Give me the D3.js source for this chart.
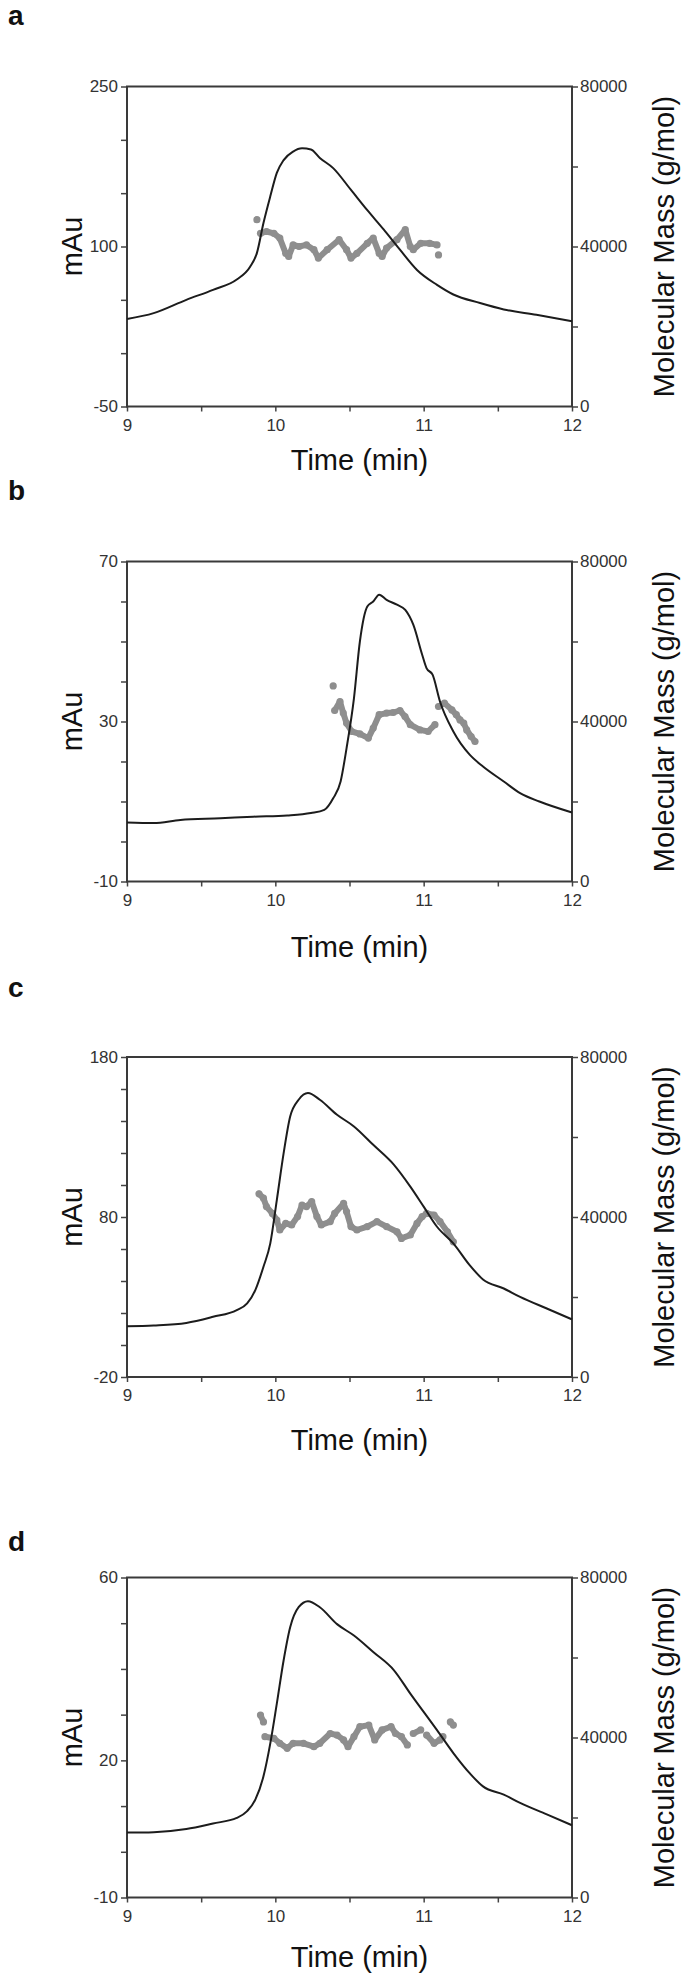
<!DOCTYPE html>
<html>
<head>
<meta charset="utf-8">
<script src="https://cdn.jsdelivr.net/npm/d3@7"></script>
<style>
  body { margin: 0; background: #fff; }
  svg { display: block; font-family: Arial, "Liberation Sans", sans-serif; }
</style>
</head>
<body>
<div id="chart"></div>
<script>
// shared time axis (min) and molecular mass axis (g/mol)
const timeDomain = [9, 12];
const timeTicks = [9, 9.5, 10, 10.5, 11, 11.5, 12];
const timeLabels = [9, 10, 11, 12];
const massDomain = [0, 80000];
const massTicks = [0, 20000, 40000, 60000, 80000];
const massLabels = [0, 40000, 80000];

const panelNames = ["a", "b", "c", "d"];
const mauDomains = [[-50, 250], [-10, 70], [-20, 180], [-10, 60]];
const mauTickSteps = [50, 10, 20, 10];
const mauLabels = [[-50, 100, 250], [-10, 30, 70], [-20, 80, 180], [-10, 20, 60]];

// panel a
const uvTimeA = [9, 9.18, 9.40, 9.58, 9.74, 9.83, 9.876, 9.92, 9.966, 10.01, 10.056, 10.12, 10.18, 10.24, 10.30, 10.39, 10.51, 10.62, 10.73, 10.84, 10.955, 11.09, 11.20, 11.38, 11.54, 11.76, 12];
const uvA = [32, 37.5, 50, 59.4, 69, 81, 94, 122, 147, 169, 181, 189, 192, 191, 183, 173.5, 153, 134, 116, 97, 78, 64, 55, 47, 41, 36, 30];
const mmTimeA = [9.876, 9.89, 9.90, 9.94, 9.99, 10.03, 10.07, 10.09, 10.12, 10.16, 10.21, 10.26, 10.29, 10.35, 10.43, 10.48, 10.51, 10.55, 10.62, 10.66, 10.70, 10.72, 10.75, 10.82, 10.876, 10.91, 10.93, 10.98, 11.04, 11.09, 11.095, 11.10];
const mmA = [46700, null, 43300, 43750, 43300, 42100, 38300, 37500, 40400, 40000, 40400, 39200, 37100, 39200, 41700, 39200, 37100, 38300, 40800, 42100, 38300, 37500, 39600, 41700, 44200, 40000, 39200, 40800, 40800, 40400, null, 37900];

// panel b
const uvTimeB = [9, 9.18, 9.36, 9.63, 9.85, 10.08, 10.24, 10.33, 10.39, 10.44, 10.48, 10.53, 10.57, 10.62, 10.66, 10.70, 10.75, 10.82, 10.876, 10.93, 10.99, 11.02, 11.06, 11.11, 11.20, 11.31, 11.40, 11.54, 11.65, 11.78, 12];
const uvB = [4.75, 4.6, 5.4, 5.8, 6.2, 6.5, 7.1, 7.9, 10.8, 15, 23.3, 35.8, 50, 58.75, 60, 61.7, 60.4, 59.2, 57.9, 54.2, 46.7, 43.3, 41.7, 35, 27.5, 21.7, 18.75, 15, 12.1, 10, 7.25];
const mmTimeB = [10.39, 10.395, 10.40, 10.436, 10.458, 10.48, 10.515, 10.57, 10.627, 10.66, 10.70, 10.75, 10.795, 10.84, 10.874, 10.91, 10.975, 11.03, 11.076, 11.09, 11.10, 11.14, 11.19, 11.22, 11.245, 11.27, 11.29, 11.32, 11.346];
const mmB = [48900, null, 42750, 45000, 42100, 39600, 37500, 36900, 35850, 38350, 41700, 42100, 42250, 42750, 41250, 39200, 37900, 37500, 39200, null, 43750, 44600, 42900, 41700, 40400, 39600, 37900, 36250, 35000];

// panel c
const uvTimeC = [9, 9.18, 9.40, 9.58, 9.74, 9.81, 9.865, 9.92, 9.966, 10.01, 10.056, 10.10, 10.157, 10.22, 10.30, 10.416, 10.53, 10.66, 10.80, 10.91, 11.00, 11.09, 11.20, 11.31, 11.40, 11.54, 11.65, 11.83, 12];
const uvC = [11.7, 12.2, 13.8, 17.6, 21.8, 26, 34.3, 48.9, 63.5, 90.6, 119.9, 142.8, 153.3, 157.5, 153.3, 143.9, 136.6, 125.1, 112.6, 99, 86.5, 73.9, 63.5, 49.9, 41, 35.3, 30.1, 22.8, 16];
const mmTimeC = [9.89, 9.92, 9.94, 9.98, 10.01, 10.03, 10.07, 10.11, 10.15, 10.18, 10.21, 10.245, 10.28, 10.31, 10.37, 10.40, 10.46, 10.48, 10.51, 10.55, 10.62, 10.685, 10.75, 10.82, 10.85, 10.91, 10.955, 10.99, 11.02, 11.07, 11.11, 11.16, 11.20];
const mmC = [45800, 44700, 42600, 40900, 39250, 36750, 38400, 38000, 40100, 43000, 42600, 43850, 40100, 38000, 38850, 40900, 43400, 41350, 37600, 36750, 37600, 38850, 37600, 36300, 34650, 35500, 38400, 40100, 40900, 40500, 38850, 36300, 33800];

// panel d
const uvTimeD = [9, 9.18, 9.40, 9.58, 9.74, 9.81, 9.865, 9.92, 9.966, 10.01, 10.056, 10.10, 10.157, 10.22, 10.30, 10.416, 10.53, 10.66, 10.80, 10.91, 11.00, 11.09, 11.20, 11.31, 11.40, 11.54, 11.65, 11.83, 12];
const uvD = [4.2, 4.3, 5.0, 6.2, 7.4, 8.9, 11.4, 16.5, 23.7, 32.4, 41.9, 49.1, 53.5, 54.8, 53.5, 49.8, 47.3, 43.7, 39.7, 34.6, 30.6, 26.6, 21.6, 17.2, 14.3, 12.5, 10.7, 8.2, 5.8];
const mmTimeD = [9.90, 9.92, 9.925, 9.93, 9.99, 10.03, 10.08, 10.12, 10.19, 10.26, 10.30, 10.37, 10.416, 10.46, 10.49, 10.53, 10.57, 10.63, 10.67, 10.72, 10.78, 10.81, 10.85, 10.89, 10.90, 10.93, 10.98, 11.00, 11.02, 11.07, 11.11, 11.13, 11.15, 11.18, 11.20];
const mmD = [45600, 43900, null, 40200, 39800, 38550, 37300, 38550, 38550, 37700, 38550, 41000, 40600, 39400, 37700, 40200, 42700, 43100, 39400, 41900, 42700, 41000, 40200, 38150, null, 41000, 41900, null, 40600, 38550, 39400, 40200, null, 43900, 43100];

const uvTimes = [uvTimeA, uvTimeB, uvTimeC, uvTimeD];
const uvValues = [uvA, uvB, uvC, uvD];
const mmTimes = [mmTimeA, mmTimeB, mmTimeC, mmTimeD];
const mmValues = [mmA, mmB, mmC, mmD];

// layout
const width = 685;
const height = 1981;
const frameLeft = 127;
const frameRight = 572;
const frameH = 320;
const frameTops = [86.5, 561.5, 1057, 1577.5];
const letterBaselines = [25, 500, 997, 1551];
const titleOffsets = [63, 75, 73, 69];
const tickFont = 17;
const titleFont = 29;
const dotColor = "#8e8e8e";

const svg = d3.select("#chart")
    .append("svg")
    .attr("width", width)
    .attr("height", height);

function styleAxis(g) {
    g.attr("font-family", null).attr("font-size", null);
    g.select(".domain").remove();
    g.selectAll(".tick line").attr("stroke", "#444").attr("stroke-width", 1.5);
    g.selectAll(".tick text").attr("font-size", tickFont).attr("fill", "#333");
}

panelNames.forEach((name, i) => {
    const top = frameTops[i];
    const bottom = top + frameH;
    const x = d3.scaleLinear().domain(timeDomain).range([frameLeft, frameRight]);
    const y = d3.scaleLinear().domain(mauDomains[i]).range([bottom, top]);
    const y2 = d3.scaleLinear().domain(massDomain).range([bottom, top]);
    const step = mauTickSteps[i];
    const mauTicks = d3.range(mauDomains[i][0], mauDomains[i][1] + step / 2, step);

    const g = svg.append("g");

    // axes (ticks outward, labels only on some ticks)
    g.append("g")
        .attr("transform", `translate(${frameLeft},0)`)
        .call(d3.axisLeft(y).tickValues(mauTicks).tickSize(6).tickPadding(3)
            .tickFormat(d => mauLabels[i].includes(d) ? d : ""))
        .call(styleAxis);
    g.append("g")
        .attr("transform", `translate(${frameRight},0)`)
        .call(d3.axisRight(y2).tickValues(massTicks).tickSize(6).tickPadding(2)
            .tickFormat(d => massLabels.includes(d) ? d : ""))
        .call(styleAxis);
    g.append("g")
        .attr("transform", `translate(0,${bottom})`)
        .call(d3.axisBottom(x).tickValues(timeTicks).tickSize(5).tickPadding(7)
            .tickFormat(d => timeLabels.includes(d) ? d : ""))
        .call(styleAxis);

    // frame
    g.append("rect")
        .attr("x", frameLeft)
        .attr("y", top)
        .attr("width", frameRight - frameLeft)
        .attr("height", frameH)
        .attr("fill", "none")
        .attr("stroke", "#3a3a3a")
        .attr("stroke-width", 2);

    // molecular mass dots
    const mm = mmTimes[i].map((t, k) => [t, mmValues[i][k]]);
    g.append("path")
        .datum(mm)
        .attr("fill", "none")
        .attr("stroke", dotColor)
        .attr("stroke-width", 6)
        .attr("stroke-linejoin", "round")
        .attr("stroke-linecap", "round")
        .attr("d", d3.line()
            .defined(d => d[1] !== null)
            .x(d => x(d[0]))
            .y(d => y2(d[1])));
    g.selectAll("circle.mm")
        .data(mm.filter(d => d[1] !== null))
        .join("circle")
        .attr("class", "mm")
        .attr("cx", d => x(d[0]))
        .attr("cy", d => y2(d[1]))
        .attr("r", 3.6)
        .attr("fill", dotColor);

    // UV trace
    const uv = uvTimes[i].map((t, k) => [t, uvValues[i][k]]);
    g.append("path")
        .datum(uv)
        .attr("fill", "none")
        .attr("stroke", "#1c1c1c")
        .attr("stroke-width", 2)
        .attr("d", d3.line()
            .x(d => x(d[0]))
            .y(d => y(d[1]))
            .curve(d3.curveMonotoneX));

    // panel letter
    g.append("text")
        .attr("x", 8)
        .attr("y", letterBaselines[i])
        .attr("font-size", 28)
        .attr("font-weight", "bold")
        .attr("fill", "#111")
        .text(name);

    // axis titles
    const mid = (top + bottom) / 2;
    g.append("text")
        .attr("x", (frameLeft + frameRight) / 2 + 10)
        .attr("y", bottom + titleOffsets[i])
        .attr("text-anchor", "middle")
        .attr("font-size", titleFont)
        .attr("fill", "#111")
        .text("Time (min)");
    g.append("text")
        .attr("transform", `translate(72,${mid}) rotate(-90)`)
        .attr("text-anchor", "middle")
        .attr("dominant-baseline", "central")
        .attr("font-size", titleFont)
        .attr("fill", "#111")
        .text("mAu");
    g.append("text")
        .attr("transform", `translate(664,${mid}) rotate(-90)`)
        .attr("text-anchor", "middle")
        .attr("dominant-baseline", "central")
        .attr("font-size", titleFont)
        .attr("fill", "#111")
        .text("Molecular Mass (g/mol)");
});
</script>
</body>
</html>
